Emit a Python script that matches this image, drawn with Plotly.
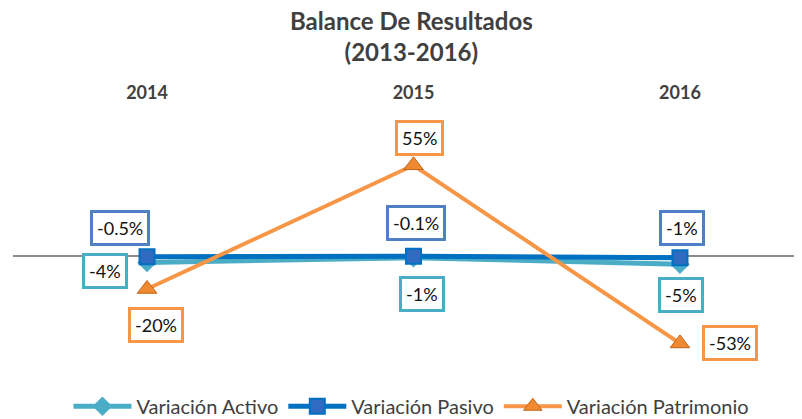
import plotly.graph_objects as go

# ---- data ----
years = ["2014", "2015", "2016"]
activo = [-4, -1, -5]
pasivo = [-0.5, -0.1, -1]
patrimonio = [-20, 55, -53]
activo_labels = ["-4%", "-1%", "-5%"]
pasivo_labels = ["-0.5%", "-0.1%", "-1%"]
patrimonio_labels = ["-20%", "55%", "-53%"]

# ---- styles ----
C_ACT = "#4BACC6"
C_PAS = "#0070C0"
C_PAT = "#F79646"
TXT = "#404040"
FONT = "Lato"

xs = [0, 1, 2]

fig = go.Figure()
fig.add_trace(go.Scatter(
    x=xs, y=activo, name="Variación Activo", mode="lines+markers",
    line=dict(color=C_ACT, width=5),
    marker=dict(symbol="diamond", size=15, color=C_ACT)))
fig.add_trace(go.Scatter(
    x=xs, y=pasivo, name="Variación Pasivo", mode="lines+markers",
    line=dict(color=C_PAS, width=5),
    marker=dict(symbol="square", size=15, color="#2F6BC0",
                line=dict(color=C_PAS, width=2))))
fig.add_trace(go.Scatter(
    x=xs, y=patrimonio, name="Variación Patrimonio", mode="lines+markers",
    line=dict(color=C_PAT, width=4),
    marker=dict(symbol="triangle-up", size=17, color="#F08A30",
                line=dict(color="#C0651A", width=1))))

# label offsets (px) per series/point
shifts_act = [(-42, -8), (8, -36), (1, -31)]
shifts_pas = [(-27, 29), (2, 33), (2, 30)]
shifts_pat = [(9, -36), (6, 27), (50, 0)]

def add_labels(vals, labels, shifts, color):
    for x, v, t, (dx, dy) in zip(xs, vals, labels, shifts):
        fig.add_annotation(
            x=x, y=v, text=t, showarrow=False, xshift=dx, yshift=dy,
            font=dict(family=FONT, size=18, color="#111111"),
            bgcolor="white", bordercolor=color, borderwidth=3, borderpad=4)

add_labels(activo, activo_labels, shifts_act, C_ACT)
add_labels(pasivo, pasivo_labels, shifts_pas, "#4F7FC4")
add_labels(patrimonio, patrimonio_labels, shifts_pat, C_PAT)

fig.update_layout(
    width=794, height=411,
    margin=dict(l=5, r=0, t=102, b=49),
    paper_bgcolor="white", plot_bgcolor="white",
    font=dict(family=FONT, color=TXT),
    title=dict(text="<b>Balance De Resultados<br>(2013-2016)</b>",
               x=0.508, xanchor="center", yref="container", y=0.947, yanchor="middle",
               font=dict(family=FONT, size=24, color=TXT)),
    showlegend=True,
    legend=dict(orientation="h", x=0.505, xanchor="center",
                yref="container", y=0.031, yanchor="middle",
                font=dict(family=FONT, size=20, color=TXT),
                itemwidth=58, bgcolor="rgba(0,0,0,0)"),
    xaxis=dict(range=[-0.503, 2.458], side="top", tickmode="array",
               tickvals=xs, ticktext=["<b>%s</b>" % y for y in years],
               tickfont=dict(family=FONT, size=18, color=TXT),
               showgrid=False, zeroline=False, showline=False, ticks="",
               ticklabelstandoff=6),
    yaxis=dict(range=[-69.1, 88.5], showticklabels=False, showgrid=False,
               zeroline=True, zerolinecolor="#8C8C8C", zerolinewidth=2,
               showline=False),
)

fig.write_html("out.html")
